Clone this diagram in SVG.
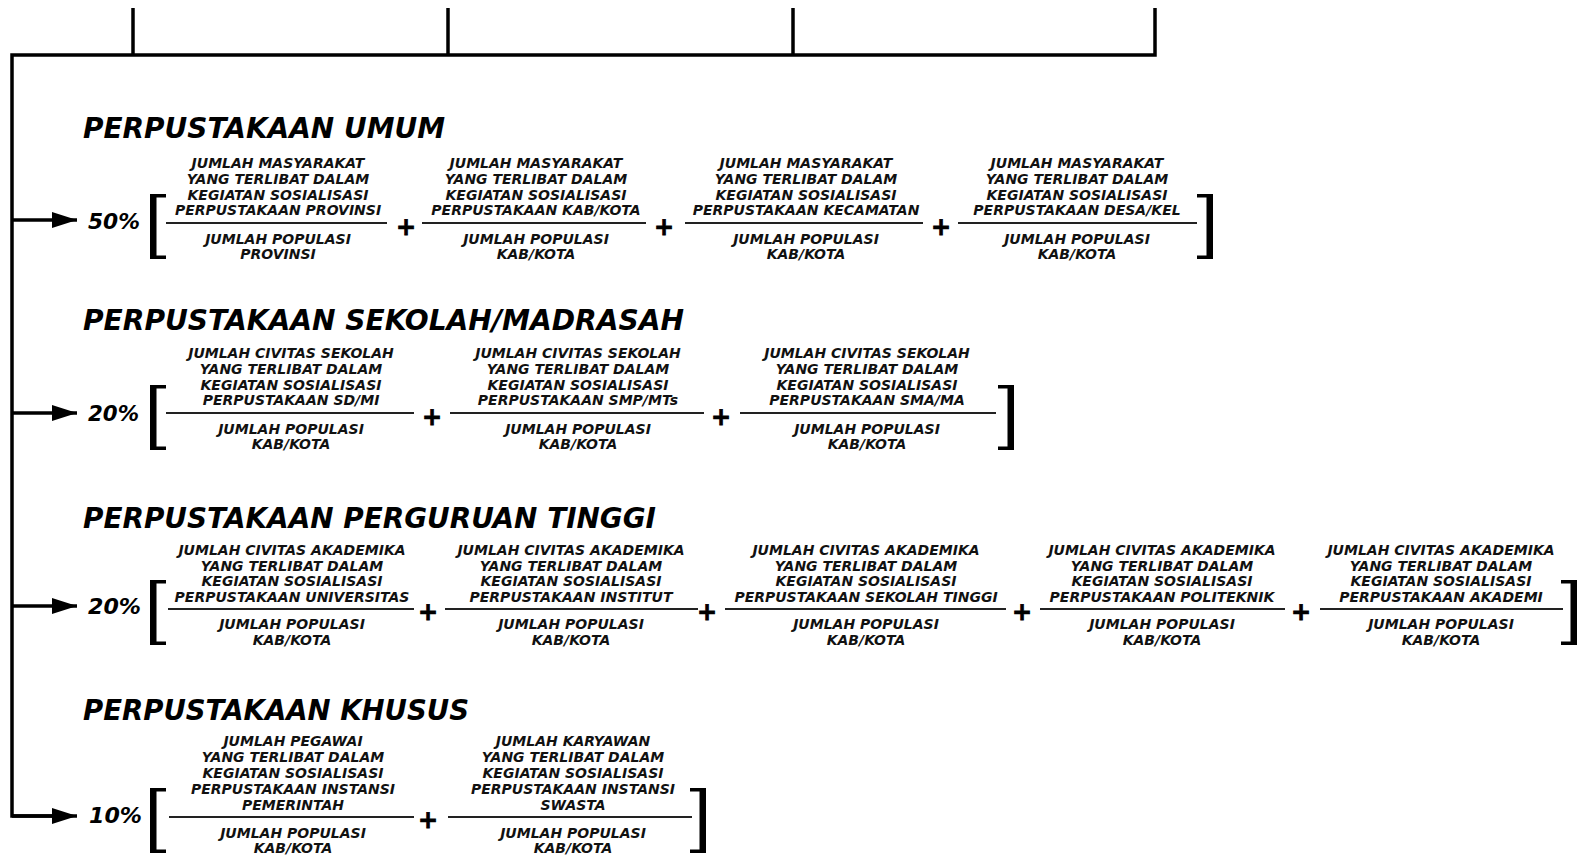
<svg xmlns="http://www.w3.org/2000/svg" width="1577" height="855" viewBox="0 0 1577 855">
<style>
  .bg { fill: #ffffff; }
  .ln { stroke: #000; stroke-width: 3.5; fill: none; stroke-linecap: butt; }
  .fl { stroke: #222; stroke-width: 1.8; }
  .ttl { font-family: "DejaVu Sans", "Liberation Sans", sans-serif; font-weight: bold; font-style: italic; font-size: 28px; fill: #000; }
  .pct { font-family: "DejaVu Sans", "Liberation Sans", sans-serif; font-weight: bold; font-style: italic; font-size: 22px; fill: #000; }
  .t { font-family: "DejaVu Sans", "Liberation Sans", sans-serif; font-weight: bold; font-style: italic; font-size: 14px; fill: #111; text-anchor: middle; }
  .pl { font-family: "DejaVu Sans", "Liberation Sans", sans-serif; font-weight: bold; font-size: 24px; fill: #000; stroke: #000; stroke-width: 0.8; text-anchor: middle; }
  .br { fill: #000; }
</style>
<defs>
  <path id="lb" d="M0,0 H16 V3.5 H6.5 V61.5 H16 V65 H0 Z"/>
  <path id="rb" d="M0,0 H-16 V3.5 H-6.5 V61.5 H-16 V65 H0 Z"/>
  <marker id="ah" markerWidth="25" markerHeight="16" refX="25" refY="8" orient="auto" markerUnits="userSpaceOnUse">
    <path d="M0,0 L25,8 L0,16 Z" fill="#000"/>
  </marker>
</defs>
<rect class="bg" x="0" y="0" width="1577" height="855"/>

<g id="connectors">
  <line class="ln" x1="133" y1="8" x2="133" y2="55"/>
  <line class="ln" x1="448" y1="8" x2="448" y2="55"/>
  <line class="ln" x1="793" y1="8" x2="793" y2="55"/>
  <path class="ln" d="M1155,8 V55 H12 V816 H56"/>
  <line class="ln" x1="12" y1="220" x2="77" y2="220" marker-end="url(#ah)"/>
  <line class="ln" x1="12" y1="413" x2="77" y2="413" marker-end="url(#ah)"/>
  <line class="ln" x1="12" y1="606" x2="77" y2="606" marker-end="url(#ah)"/>
  <line class="ln" x1="12" y1="816" x2="77" y2="816" marker-end="url(#ah)"/>
</g>

<g id="umum">
  <text class="ttl" x="83" y="138" textLength="362" lengthAdjust="spacingAndGlyphs">PERPUSTAKAAN UMUM</text>
  <text class="pct" x="88" y="229" textLength="52" lengthAdjust="spacingAndGlyphs">50%</text>
  <use href="#lb" class="br" x="150" y="194"/>
  <use href="#rb" class="br" x="1213" y="194"/>
  <g id="umum-f1">
    <text class="t" x="278" y="168">JUMLAH MASYARAKAT</text>
    <text class="t" x="278" y="184">YANG TERLIBAT DALAM</text>
    <text class="t" x="278" y="200">KEGIATAN SOSIALISASI</text>
    <text class="t" x="278" y="215">PERPUSTAKAAN PROVINSI</text>
    <line class="fl" x1="166" y1="223" x2="387" y2="223"/>
    <text class="t" x="278" y="244">JUMLAH POPULASI</text>
    <text class="t" x="278" y="259">PROVINSI</text>
  </g>
  <text class="pl" x="406" y="235">+</text>
  <g id="umum-f2">
    <text class="t" x="536" y="168">JUMLAH MASYARAKAT</text>
    <text class="t" x="536" y="184">YANG TERLIBAT DALAM</text>
    <text class="t" x="536" y="200">KEGIATAN SOSIALISASI</text>
    <text class="t" x="536" y="215">PERPUSTAKAAN KAB/KOTA</text>
    <line class="fl" x1="422" y1="223" x2="646" y2="223"/>
    <text class="t" x="536" y="244">JUMLAH POPULASI</text>
    <text class="t" x="536" y="259">KAB/KOTA</text>
  </g>
  <text class="pl" x="664" y="235">+</text>
  <g id="umum-f3">
    <text class="t" x="806" y="168">JUMLAH MASYARAKAT</text>
    <text class="t" x="806" y="184">YANG TERLIBAT DALAM</text>
    <text class="t" x="806" y="200">KEGIATAN SOSIALISASI</text>
    <text class="t" x="806" y="215">PERPUSTAKAAN KECAMATAN</text>
    <line class="fl" x1="685" y1="223" x2="923" y2="223"/>
    <text class="t" x="806" y="244">JUMLAH POPULASI</text>
    <text class="t" x="806" y="259">KAB/KOTA</text>
  </g>
  <text class="pl" x="941" y="235">+</text>
  <g id="umum-f4">
    <text class="t" x="1077" y="168">JUMLAH MASYARAKAT</text>
    <text class="t" x="1077" y="184">YANG TERLIBAT DALAM</text>
    <text class="t" x="1077" y="200">KEGIATAN SOSIALISASI</text>
    <text class="t" x="1077" y="215">PERPUSTAKAAN DESA/KEL</text>
    <line class="fl" x1="958" y1="223" x2="1197" y2="223"/>
    <text class="t" x="1077" y="244">JUMLAH POPULASI</text>
    <text class="t" x="1077" y="259">KAB/KOTA</text>
  </g>
</g>

<g id="sekolah">
  <text class="ttl" x="83" y="330" textLength="601" lengthAdjust="spacingAndGlyphs">PERPUSTAKAAN SEKOLAH/MADRASAH</text>
  <text class="pct" x="88" y="421" textLength="51" lengthAdjust="spacingAndGlyphs">20%</text>
  <use href="#lb" class="br" x="150" y="385"/>
  <use href="#rb" class="br" x="1014" y="385"/>
  <g id="sekolah-f1">
    <text class="t" x="291" y="358">JUMLAH CIVITAS SEKOLAH</text>
    <text class="t" x="291" y="374">YANG TERLIBAT DALAM</text>
    <text class="t" x="291" y="390">KEGIATAN SOSIALISASI</text>
    <text class="t" x="291" y="405">PERPUSTAKAAN SD/MI</text>
    <line class="fl" x1="166" y1="413" x2="414" y2="413"/>
    <text class="t" x="291" y="434">JUMLAH POPULASI</text>
    <text class="t" x="291" y="449">KAB/KOTA</text>
  </g>
  <text class="pl" x="432" y="425">+</text>
  <g id="sekolah-f2">
    <text class="t" x="578" y="358">JUMLAH CIVITAS SEKOLAH</text>
    <text class="t" x="578" y="374">YANG TERLIBAT DALAM</text>
    <text class="t" x="578" y="390">KEGIATAN SOSIALISASI</text>
    <text class="t" x="578" y="405">PERPUSTAKAAN SMP/MTs</text>
    <line class="fl" x1="450" y1="413" x2="704" y2="413"/>
    <text class="t" x="578" y="434">JUMLAH POPULASI</text>
    <text class="t" x="578" y="449">KAB/KOTA</text>
  </g>
  <text class="pl" x="721" y="425">+</text>
  <g id="sekolah-f3">
    <text class="t" x="867" y="358">JUMLAH CIVITAS SEKOLAH</text>
    <text class="t" x="867" y="374">YANG TERLIBAT DALAM</text>
    <text class="t" x="867" y="390">KEGIATAN SOSIALISASI</text>
    <text class="t" x="867" y="405">PERPUSTAKAAN SMA/MA</text>
    <line class="fl" x1="740" y1="413" x2="996" y2="413"/>
    <text class="t" x="867" y="434">JUMLAH POPULASI</text>
    <text class="t" x="867" y="449">KAB/KOTA</text>
  </g>
</g>

<g id="pt">
  <text class="ttl" x="83" y="528" textLength="573" lengthAdjust="spacingAndGlyphs">PERPUSTAKAAN PERGURUAN TINGGI</text>
  <text class="pct" x="88" y="614" textLength="53" lengthAdjust="spacingAndGlyphs">20%</text>
  <use href="#lb" class="br" x="150" y="580"/>
  <use href="#rb" class="br" x="1577" y="580"/>
  <g id="pt-f1">
    <text class="t" x="292" y="555">JUMLAH CIVITAS AKADEMIKA</text>
    <text class="t" x="292" y="571">YANG TERLIBAT DALAM</text>
    <text class="t" x="292" y="586">KEGIATAN SOSIALISASI</text>
    <text class="t" x="292" y="602">PERPUSTAKAAN UNIVERSITAS</text>
    <line class="fl" x1="168" y1="609" x2="414" y2="609"/>
    <text class="t" x="292" y="629">JUMLAH POPULASI</text>
    <text class="t" x="292" y="645">KAB/KOTA</text>
  </g>
  <text class="pl" x="428" y="620">+</text>
  <g id="pt-f2">
    <text class="t" x="571" y="555">JUMLAH CIVITAS AKADEMIKA</text>
    <text class="t" x="571" y="571">YANG TERLIBAT DALAM</text>
    <text class="t" x="571" y="586">KEGIATAN SOSIALISASI</text>
    <text class="t" x="571" y="602">PERPUSTAKAAN INSTITUT</text>
    <line class="fl" x1="445" y1="609" x2="698" y2="609"/>
    <text class="t" x="571" y="629">JUMLAH POPULASI</text>
    <text class="t" x="571" y="645">KAB/KOTA</text>
  </g>
  <text class="pl" x="707" y="620">+</text>
  <g id="pt-f3">
    <text class="t" x="866" y="555">JUMLAH CIVITAS AKADEMIKA</text>
    <text class="t" x="866" y="571">YANG TERLIBAT DALAM</text>
    <text class="t" x="866" y="586">KEGIATAN SOSIALISASI</text>
    <text class="t" x="866" y="602">PERPUSTAKAAN SEKOLAH TINGGI</text>
    <line class="fl" x1="725" y1="609" x2="1006" y2="609"/>
    <text class="t" x="866" y="629">JUMLAH POPULASI</text>
    <text class="t" x="866" y="645">KAB/KOTA</text>
  </g>
  <text class="pl" x="1022" y="620">+</text>
  <g id="pt-f4">
    <text class="t" x="1162" y="555">JUMLAH CIVITAS AKADEMIKA</text>
    <text class="t" x="1162" y="571">YANG TERLIBAT DALAM</text>
    <text class="t" x="1162" y="586">KEGIATAN SOSIALISASI</text>
    <text class="t" x="1162" y="602">PERPUSTAKAAN POLITEKNIK</text>
    <line class="fl" x1="1040" y1="609" x2="1285" y2="609"/>
    <text class="t" x="1162" y="629">JUMLAH POPULASI</text>
    <text class="t" x="1162" y="645">KAB/KOTA</text>
  </g>
  <text class="pl" x="1301" y="620">+</text>
  <g id="pt-f5">
    <text class="t" x="1441" y="555">JUMLAH CIVITAS AKADEMIKA</text>
    <text class="t" x="1441" y="571">YANG TERLIBAT DALAM</text>
    <text class="t" x="1441" y="586">KEGIATAN SOSIALISASI</text>
    <text class="t" x="1441" y="602">PERPUSTAKAAN AKADEMI</text>
    <line class="fl" x1="1320" y1="609" x2="1563" y2="609"/>
    <text class="t" x="1441" y="629">JUMLAH POPULASI</text>
    <text class="t" x="1441" y="645">KAB/KOTA</text>
  </g>
</g>

<g id="khusus">
  <text class="ttl" x="83" y="720" textLength="386" lengthAdjust="spacingAndGlyphs">PERPUSTAKAAN KHUSUS</text>
  <text class="pct" x="89" y="823" textLength="53" lengthAdjust="spacingAndGlyphs">10%</text>
  <use href="#lb" class="br" x="150" y="788"/>
  <use href="#rb" class="br" x="706" y="788"/>
  <g id="khusus-f1">
    <text class="t" x="293" y="746">JUMLAH PEGAWAI</text>
    <text class="t" x="293" y="762">YANG TERLIBAT DALAM</text>
    <text class="t" x="293" y="778">KEGIATAN SOSIALISASI</text>
    <text class="t" x="293" y="794">PERPUSTAKAAN INSTANSI</text>
    <text class="t" x="293" y="810">PEMERINTAH</text>
    <line class="fl" x1="169" y1="817" x2="414" y2="817"/>
    <text class="t" x="293" y="838">JUMLAH POPULASI</text>
    <text class="t" x="293" y="853">KAB/KOTA</text>
  </g>
  <text class="pl" x="428" y="828">+</text>
  <g id="khusus-f2">
    <text class="t" x="573" y="746">JUMLAH KARYAWAN</text>
    <text class="t" x="573" y="762">YANG TERLIBAT DALAM</text>
    <text class="t" x="573" y="778">KEGIATAN SOSIALISASI</text>
    <text class="t" x="573" y="794">PERPUSTAKAAN INSTANSI</text>
    <text class="t" x="573" y="810">SWASTA</text>
    <line class="fl" x1="448" y1="817" x2="692" y2="817"/>
    <text class="t" x="573" y="838">JUMLAH POPULASI</text>
    <text class="t" x="573" y="853">KAB/KOTA</text>
  </g>
</g>
</svg>
